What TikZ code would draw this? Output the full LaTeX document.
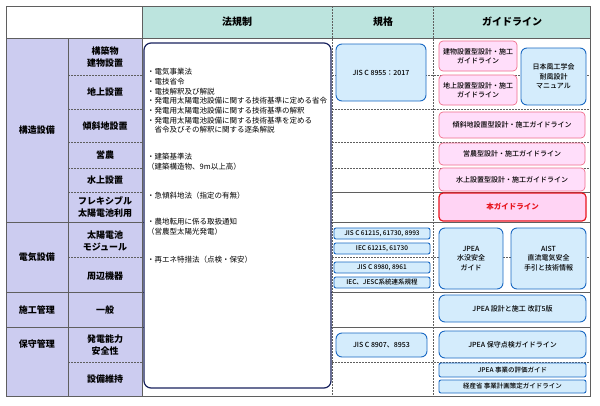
\documentclass[tikz,border=0pt]{standalone}
\usepackage{fontspec}
\setmainfont{Noto Sans CJK JP}
\newfontfamily\medfont{Noto Sans CJK JP}[UprightFont=* Medium]
\usetikzlibrary{positioning}

\definecolor{headcol}{RGB}{188,228,222}
\definecolor{lavcol}{RGB}{204,204,240}
\definecolor{gridcol}{RGB}{95,95,95}
\definecolor{navycol}{RGB}{25,35,95}
\definecolor{pinkfill}{RGB}{255,222,250}
\definecolor{pinkline}{RGB}{240,110,140}
\definecolor{redfill}{RGB}{255,212,244}
\definecolor{redline}{RGB}{232,20,30}
\definecolor{bluefill}{RGB}{212,236,252}
\definecolor{blueline}{RGB}{25,105,195}

\tikzset{
    gridline/.style={draw=gridcol, line width=0.6pt},
    dotline/.style={gridline, dash pattern=on 1.5pt off 1.5pt},
    headlabel/.style={font=\bfseries\fontsize{10}{12}\selectfont},
    rowlabel/.style={align=center, inner sep=0, font=\bfseries\fontsize{9}{12}\selectfont},
    lawtext/.style={anchor=west, align=left, inner sep=0, font=\fontsize{7.5}{9.7}\selectfont},
    pinkbox/.style={draw=pinkline, fill=pinkfill, rounded corners=4pt, line width=0.7pt,
        align=center, inner sep=0, font=\medfont\fontsize{7}{9.5}\selectfont},
    redbox/.style={pinkbox, draw=redline, fill=redfill, line width=1.2pt,
        text=redline, font=\bfseries\fontsize{7.5}{9.5}\selectfont},
    bluebox/.style={draw=blueline, fill=bluefill, rounded corners=6pt, line width=0.9pt,
        align=center, inner sep=0, font=\medfont\fontsize{7}{9.7}\selectfont},
    smallbox/.style={bluebox, rounded corners=2pt, font=\medfont\fontsize{6.5}{8}\selectfont},
}

\begin{document}
\begin{tikzpicture}[x=1pt, y=-1pt]
    \useasboundingbox[fill=white] (0,0) rectangle (600,405);

    % header and side columns
    \fill[headcol] (142,6) rectangle (590,38);
    \fill[lavcol] (6,38) rectangle (142,396);

    \foreach \y in {75,109,142,168,192,257,362}
        \draw[dotline] (68,\y) -- (142,\y);
    \foreach \y in {75,109,142,168,257,362}
        \draw[dotline] (332,\y) -- (590,\y);
    \foreach \y in {38,222,292,327}
        \draw[gridline] (6,\y) -- (590,\y);
    \draw[gridline] (332,192) -- (590,192);
    \foreach \x in {332,433}
        \draw[dotline] (\x,6) -- (\x,396);
    \draw[gridline] (68,38) -- (68,396);
    \draw[gridline] (142,6) -- (142,396);
    \draw[gridline, line width=0.8pt] (6,6) rectangle (590,396);

    \node[headlabel] (head 1) at (237,22) {法規制};
    \node[headlabel] (head 2) at (383,22) {規格};
    \node[headlabel] (head 3) at (512,22) {ガイドライン};

    \node[rowlabel] (sec 1) at (37,130) {構造設備};
    \node[rowlabel] (sec 2) at (37,257) {電気設備};
    \node[rowlabel] (sec 3) at (37,310) {施工管理};
    \node[rowlabel] (sec 4) at (37,344) {保守管理};

    \node[rowlabel] (item 1) at (105,57) {構築物\\建物設置};
    \node[rowlabel] (item 2) at (105,92) {地上設置};
    \node[rowlabel] (item 3) at (105,126) {傾斜地設置};
    \node[rowlabel] (item 4) at (105,155) {営農};
    \node[rowlabel] (item 5) at (105,180) {水上設置};
    \node[rowlabel] (item 6) at (105,207.5) {フレキシブル\\太陽電池利用};
    \node[rowlabel] (item 7) at (105,240.5) {太陽電池\\モジュール};
    \node[rowlabel] (item 8) at (105,276) {周辺機器};
    \node[rowlabel] (item 9) at (105,310) {一般};
    \node[rowlabel] (item 10) at (105,345) {発電能力\\安全性};
    \node[rowlabel] (item 11) at (105,379) {設備維持};

    % law column
    \draw[navycol, fill=white, line width=1.2pt, rounded corners=7pt] (144,43) rectangle (331,388);
    \node[lawtext] (law 1) at (147,101) {・電気事業法\\・電技省令\\・電技解釈及び解説\\
        ・発電用太陽電池設備に関する技術基準に定める省令\\
        ・発電用太陽電池設備に関する技術基準の解釈\\
        ・発電用太陽電池設備に関する技術基準を定める\\
        \hspace{7.5pt}省令及びその解釈に関する逐条解説};
    \node[lawtext] (law 2) at (147,162) {・建築基準法\\（建築構造物、9m以上高）};
    \node[lawtext] (law 3) at (147,196) {・急傾斜地法（指定の有無）};
    \node[lawtext] (law 4) at (147,227) {・農地転用に係る取扱通知\\（営農型太陽光発電）};
    \node[lawtext] (law 5) at (147,260) {・再エネ特措法（点検・保安）};

    % standards
    \node[bluebox, minimum width=90, minimum height=57] (std 1) at (381,72.5) {JIS C 8955：2017};
    \node[smallbox, minimum width=96, minimum height=11] (std 2) at (382,233.5) {JIS C 61215, 61730, 8993};
    \node[smallbox, minimum width=96, minimum height=11] (std 3) at (382,248.5) {IEC 61215, 61730};
    \node[smallbox, minimum width=96, minimum height=11] (std 4) at (382,267.5) {JIS C 8980, 8961};
    \node[smallbox, minimum width=96, minimum height=11] (std 5) at (382,282.5) {IEC、JESC系統連系規程};
    \node[bluebox, minimum width=91, minimum height=24] (std 6) at (381.5,345) {JIS C 8907、8953};

    % guidelines
    \node[pinkbox, minimum width=78, minimum height=30] (guide 1) at (478,56) {建物設置型設計・施工\\ガイドライン};
    \node[pinkbox, minimum width=78, minimum height=30] (guide 2) at (478,90) {地上設置型設計・施工\\ガイドライン};
    \node[bluebox, minimum width=65, minimum height=57] (guide 3) at (553.5,76.5) {日本風工学会\\耐風設計\\マニュアル};
    \node[pinkbox, minimum width=146, minimum height=26] (guide 4) at (512,125) {傾斜地設置型設計・施工ガイドライン};
    \node[pinkbox, minimum width=146, minimum height=22] (guide 5) at (512,154) {営農型設計・施工ガイドライン};
    \node[pinkbox, minimum width=146, minimum height=23] (guide 6) at (512,179.5) {水上設置型設計・施工ガイドライン};
    \node[redbox, minimum width=147, minimum height=28] (guide 7) at (512.5,207) {本ガイドライン};
    \node[bluebox, minimum width=64, minimum height=61] (guide 8) at (471,258.5) {JPEA\\水没安全\\ガイド};
    \node[bluebox, minimum width=75, minimum height=61] (guide 9) at (548.5,258.5) {AIST\\直流電気安全\\手引と技術情報};
    \node[bluebox, minimum width=147, minimum height=27] (guide 10) at (512.5,308.5) {JPEA 設計と施工 改訂5版};
    \node[bluebox, minimum width=147, minimum height=27] (guide 11) at (512.5,344.5) {JPEA 保守点検ガイドライン};
    \node[smallbox, minimum width=147, minimum height=14] (guide 12) at (512.5,370) {JPEA 事業の評価ガイド};
    \node[smallbox, minimum width=147, minimum height=13] (guide 13) at (512.5,386.5) {経産省 事業計画策定ガイドライン};
\end{tikzpicture}
\end{document}
